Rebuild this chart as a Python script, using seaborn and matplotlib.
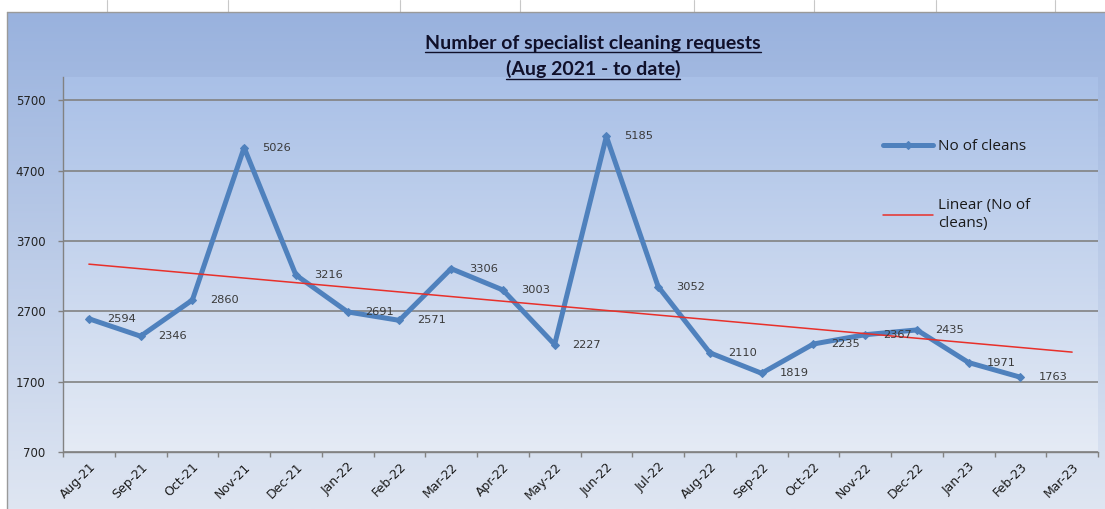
import numpy as np
import pandas as pd
import matplotlib
matplotlib.use('Agg')
import matplotlib.pyplot as plt
from matplotlib.lines import Line2D
import seaborn as sns

months = ['Aug-21', 'Sep-21', 'Oct-21', 'Nov-21', 'Dec-21', 'Jan-22', 'Feb-22',
          'Mar-22', 'Apr-22', 'May-22', 'Jun-22', 'Jul-22', 'Aug-22', 'Sep-22',
          'Oct-22', 'Nov-22', 'Dec-22', 'Jan-23', 'Feb-23', 'Mar-23']
cleans = [2594, 2346, 2860, 5026, 3216, 2691, 2571, 3306, 3003, 2227,
          5185, 3052, 2110, 1819, 2235, 2367, 2435, 1971, 1763]
y_ticks = [700, 1700, 2700, 3700, 4700, 5700]

sns.set_theme(style='white')
plt.rcParams['font.family'] = ['Lato', 'DejaVu Sans']

W, H = 1105, 509
fig = plt.figure(figsize=(W / 100, H / 100), dpi=100)
fig.patch.set_facecolor('white')


def gradient(top, bottom, n=256):
    top = np.array(matplotlib.colors.to_rgb(top))
    bottom = np.array(matplotlib.colors.to_rgb(bottom))
    t = np.linspace(0, 1, n)[:, None]
    return (top * (1 - t) + bottom * t)[:, None, :]


# chart area background
bg = fig.add_axes([7 / W, 0, 1 - 7 / W, (H - 12) / H])
bg.imshow(gradient('#99b2de', '#dfe6f2'), aspect='auto', extent=(0, 1, 0, 1))
bg.set_axis_off()

# plot area
rect = [63 / W, 1 - 452 / H, (1098 - 63) / W, (452 - 77) / H]
pbg = fig.add_axes(rect)
pbg.imshow(gradient('#a9c0e7', '#e5ebf5'), aspect='auto', extent=(0, 1, 0, 1))
pbg.set_axis_off()

ax = fig.add_axes(rect)
ax.set_facecolor('none')

df = pd.DataFrame({'pos': np.arange(len(cleans)), 'cleans': cleans})
sns.lineplot(data=df, x='pos', y='cleans', ax=ax, color='#4f81bd', lw=3.6,
             marker='D', markersize=4, mec='#4f81bd', label='No of cleans', zorder=3)

# linear trendline, forecast one period forward
coef = np.polyfit(df['pos'], df['cleans'], 1)
trend = pd.DataFrame({'pos': np.arange(len(months))})
trend['fit'] = np.polyval(coef, trend['pos'])
sns.lineplot(data=trend, x='pos', y='fit', ax=ax, color='#e8302a', lw=1.1,
             label='Linear (No of\ncleans)', zorder=4)

for x, v in zip(df['pos'], df['cleans']):
    ax.annotate(str(v), (x, v), xytext=(13, 0), textcoords='offset points',
                ha='left', va='center', fontsize=8.2, color='#3a3a3a',
                family='DejaVu Sans', zorder=5)

ax.set_xlim(-0.5, len(months) - 0.5)
ax.set_ylim(700, 6030)
ax.set_yticks(y_ticks)
ax.set_yticklabels([str(v) for v in y_ticks], family='DejaVu Sans', fontsize=8.5, color='#222222')
ax.yaxis.grid(True, color='#828282', lw=1.2)
ax.set_axisbelow(True)
ax.set_xticks(np.arange(len(months)))
ax.set_xticklabels(months, rotation=45, ha='right', rotation_mode='anchor',
                   fontsize=9, color='#1a1a1a', family='DejaVu Sans')
ax.set_xticks(np.arange(len(months) + 1) - 0.5, minor=True)
ax.tick_params(axis='x', which='major', bottom=True, length=0, pad=6)
ax.tick_params(axis='x', which='minor', bottom=True, length=3.5, color='#828282', width=1)
ax.tick_params(axis='y', left=True, length=3.6, color='#828282', width=1, pad=9)
ax.set_xlabel('')
ax.set_ylabel('')
for s in ['top', 'right']:
    ax.spines[s].set_visible(False)
for s in ['left', 'bottom']:
    ax.spines[s].set_color('#828282')
    ax.spines[s].set_linewidth(1)

leg = ax.legend(loc='upper left', bbox_to_anchor=(883 / W, 1 - 139 / H),
                bbox_transform=fig.transFigure, frameon=False,
                prop={'family': 'Open Sans', 'size': 11},
                handlelength=3.3, handletextpad=0.3, labelspacing=2.9,
                borderpad=0, borderaxespad=0)
for txt in leg.get_texts():
    txt.set_color('#1a1a1a')

# title with underline
t1 = fig.text(593 / W, 1 - 43 / H, 'Number of specialist cleaning requests',
              ha='center', va='center', fontsize=14, fontweight='bold', color='#10102a')
t2 = fig.text(593 / W, 1 - 69 / H, '(Aug 2021 - to date)',
              ha='center', va='center', fontsize=14, fontweight='bold', color='#10102a')
fig.canvas.draw()
for t in (t1, t2):
    bb = t.get_window_extent()
    yl = (bb.y0 - 0.5) / H
    fig.add_artist(Line2D([bb.x0 / W, bb.x1 / W], [yl, yl], color='#10102a', lw=1.0))

# sheet cell lines above the chart and chart border
for xc in [107, 228, 400, 520, 694, 814, 936, 1055]:
    fig.add_artist(Line2D([xc / W, xc / W], [1, 1 - 12 / H], color='#c8c8c8', lw=0.8))
fig.add_artist(Line2D([7 / W, 1], [1 - 12 / H, 1 - 12 / H], color='#9a9a9a', lw=1))
fig.add_artist(Line2D([7 / W, 7 / W], [0, 1 - 12 / H], color='#9a9a9a', lw=1))

fig.savefig('out.png', dpi=100)
